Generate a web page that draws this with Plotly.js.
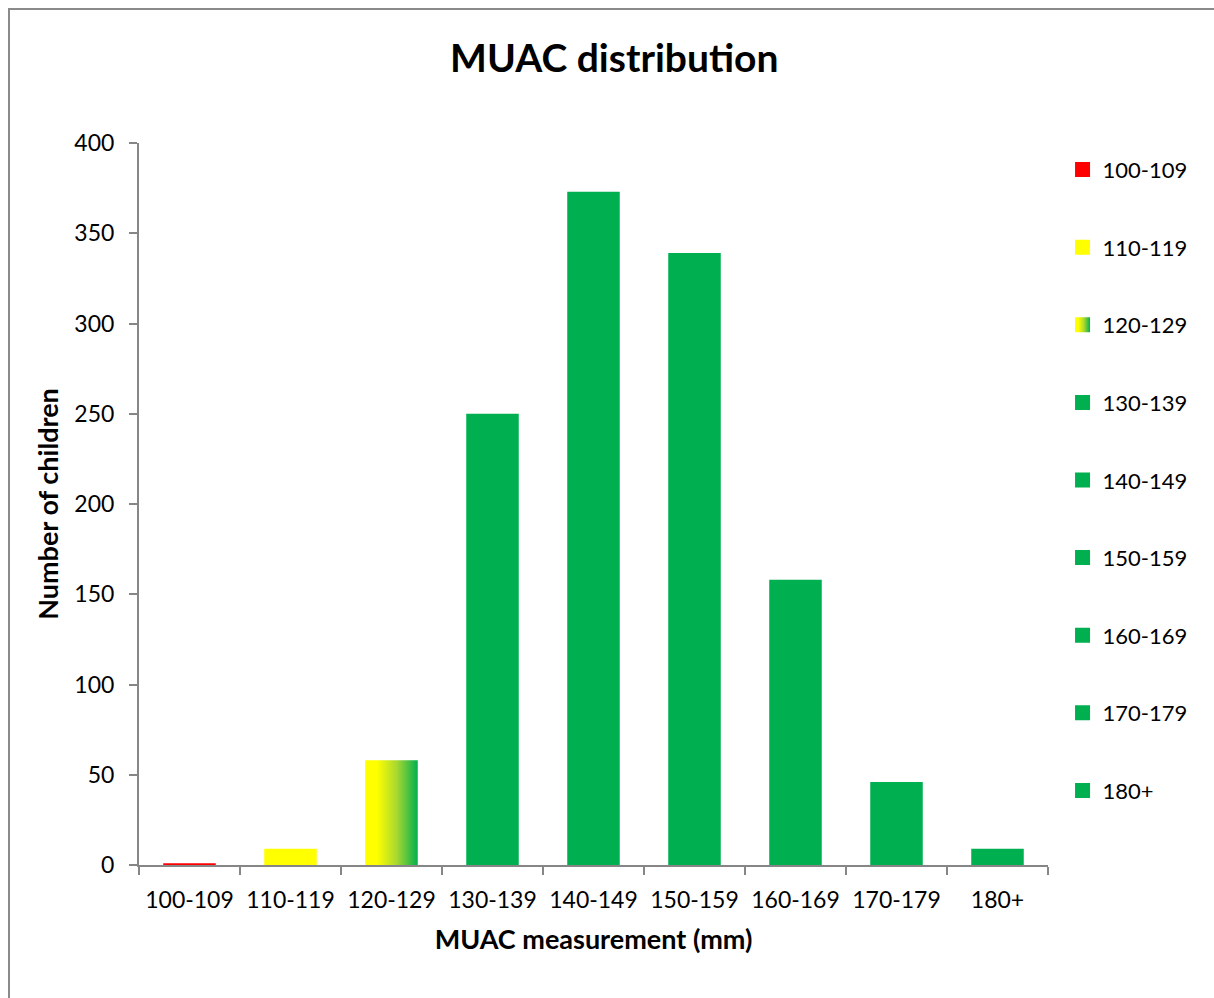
<!DOCTYPE html>
<html><head><meta charset="utf-8">
<script src="https://cdn.plot.ly/plotly-3.0.1.min.js"></script>
<style>
html,body{margin:0;padding:0;background:#fff;overflow:hidden;}
#frame{position:absolute;left:8px;top:8px;width:1300px;height:1100px;border:2px solid #8a8a8a;box-sizing:border-box;}
#chart{position:absolute;left:0;top:0;width:1214px;height:998px;}
</style></head>
<body>
<div id="frame"></div>
<div id="chart"></div>
<svg width="0" height="0" style="position:absolute">
  <defs>
    <linearGradient id="muacgrad" x1="0" y1="0" x2="1" y2="0">
      <stop offset="0" stop-color="#ffff00"/>
      <stop offset="0.22" stop-color="#ffff00"/>
      <stop offset="0.6" stop-color="#a8d830"/>
      <stop offset="1" stop-color="#00b050"/>
    </linearGradient>
  </defs>
</svg>
<script>
const categories = ["100-109","110-119","120-129","130-139","140-149","150-159","160-169","170-179","180+"];
const counts = [1, 9, 58, 250, 373, 339, 158, 46, 9];
const colors = ["#ff0000","#ffff00","#ffff00","#00b050","#00b050","#00b050","#00b050","#00b050","#00b050"];
const gradientCategory = "120-129";
const yTicks = [0,50,100,150,200,250,300,350,400];

const FONT = "Lato, 'Open Sans', sans-serif";
const traces = categories.map((c, i) => ({
  type: "bar",
  name: c,
  x: [c],
  y: [counts[i]],
  width: 0.52,
  marker: {color: colors[i], line: {width: 0}},
  legendgroup: "g" + i,
  hoverinfo: "x+y"
}));

const layout = {
  width: 1214, height: 998,
  paper_bgcolor: "rgba(0,0,0,0)",
  plot_bgcolor: "rgba(0,0,0,0)",
  margin: {l: 139, r: 166, t: 143, b: 133, autoexpand: false},
  barmode: "overlay",
  font: {family: FONT, color: "#000"},
  title: {text: "<b>MUAC distribution</b>", font: {size: 39, family: FONT, color: "#000"},
          xref: "container", x: 0.506, xanchor: "center", yref: "container", y: 0.942, yanchor: "middle"},
  xaxis: {
    type: "category", categoryorder: "array", categoryarray: categories,
    range: [-0.5, categories.length - 0.5],
    showline: true, linecolor: "#868686", linewidth: 2,
    ticks: "outside", tickson: "boundaries", ticklen: 8, tickcolor: "#868686", tickwidth: 2,
    showgrid: false, zeroline: false, automargin: false,
    tickfont: {size: 23, family: FONT}, ticklabelstandoff: 13,
    title: {text: "<b>MUAC measurement (mm)</b>", font: {size: 27, family: FONT}, standoff: 19}
  },
  yaxis: {
    range: [0, 400], tickvals: yTicks, ticktext: yTicks.map(String),
    showline: true, linecolor: "#868686", linewidth: 2,
    ticks: "outside", ticklen: 8, tickcolor: "#868686", tickwidth: 2,
    showgrid: false, zeroline: false, automargin: false,
    tickfont: {size: 23, family: FONT}, ticklabelstandoff: 10,
    title: {text: "<b>Number of children</b>", font: {size: 27, family: FONT}, standoff: 8}
  },
  showlegend: true,
  legend: {x: 1.016, xanchor: "left", y: 0.992, yanchor: "top",
           font: {size: 22, family: FONT}, tracegroupgap: 46, itemwidth: 30,
           bgcolor: "rgba(0,0,0,0)"}
};

function applyGradient() {
  const gi = categories.indexOf(gradientCategory);
  document.querySelectorAll("#chart .legend .legendpoints path").forEach(p => p.setAttribute("d", "M7.5,7.5H-7.5V-7.5H7.5Z"));
  const bars = document.querySelectorAll("#chart .barlayer .trace");
  if (bars[gi]) bars[gi].querySelectorAll("path").forEach(p => p.style.fill = "url(#muacgrad)");
  const legs = document.querySelectorAll("#chart .legend .traces");
  if (legs[gi]) legs[gi].querySelectorAll(".legendpoints path").forEach(p => p.style.fill = "url(#muacgrad)");
}

Plotly.newPlot("chart", traces, layout, {displayModeBar: false, staticPlot: true}).then(gd => {
  applyGradient();
  gd.on("plotly_afterplot", applyGradient);
});
</script>
</body></html>
